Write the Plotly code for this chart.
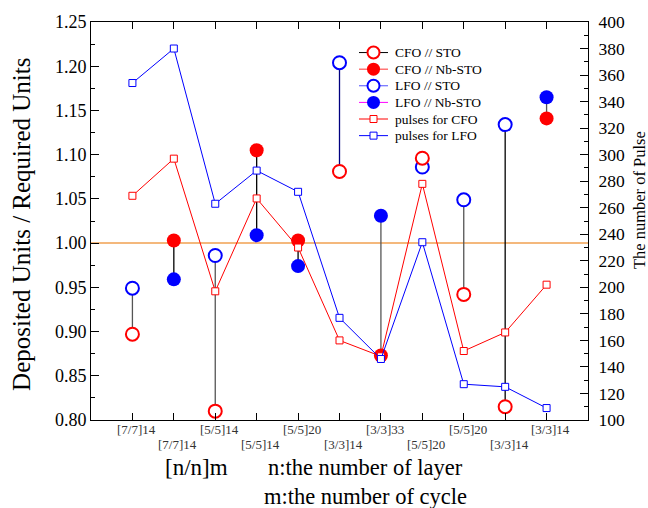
import plotly.graph_objects as go

# ---------------- data ----------------
categories = ["[7/7]14", "[7/7]14", "[5/5]14", "[5/5]14", "[5/5]20", "[3/3]14",
              "[3/3]33", "[5/5]20", "[5/5]20", "[3/3]14", "[3/3]14"]
cfo_sto    = [0.897, None, 0.810, None, None, 1.081, None, 1.096, 0.942, 0.815, None]
cfo_nbsto  = [None, 1.003, None, 1.105, 1.003, None, 0.873, None, None, None, 1.141]
lfo_sto    = [0.949, None, 0.986, None, None, 1.204, None, 1.086, 1.049, 1.134, None]
lfo_nbsto  = [None, 0.959, None, 1.009, 0.974, None, 1.031, None, None, None, 1.165]
pulses_cfo = [269, 297, 197, 267, 230, 160, 148, 278, 152, 166, 202]
pulses_lfo = [354, 380, 263, 288, 272, 177, 146, 234, 127, 125, 109]
reference_level = 1.00

legend_names = ["CFO // STO", "CFO // Nb-STO", "LFO // STO", "LFO // Nb-STO",
                "pulses for CFO", "pulses for LFO"]

x = list(range(1, len(categories) + 1))

# ---------------- styles ----------------
connector_colors = ["#555555", "#000000", "#555555", "#000000", "#000000", "#000080",
                    "#555555", "#555555", "#555555", "#000000", "#555555"]
FONT = "Liberation Serif, Times New Roman, serif"
RED = "#ff0000"
BLUE = "#0000ff"
# legend styles: line colour, symbol, fill, marker line colour, marker line width, size
legend_styles = [
    ("#000000", "circle", "white", RED, 2, 12),
    ("#ff3030", "circle", RED, RED, 0, 13),
    ("#5050ff", "circle", "white", BLUE, 2, 12),
    ("#ff00ff", "circle", BLUE, BLUE, 0, 13),
    (RED, "square", "white", RED, 1, 7),
    (BLUE, "square", "white", BLUE, 1, 7),
]
# legend layout in plot-area pixel units (overlay axis x3/y3)
LEG_X0, LEG_X1, LEG_XM, LEG_TX = 359, 388, 373.5, 393
LEG_Y0, LEG_DY = 50.7, 16.7

fig = go.Figure()

# vertical connectors between the paired values of each sample
for i, xi in enumerate(x):
    vals = [v for v in (cfo_sto[i], cfo_nbsto[i], lfo_sto[i], lfo_nbsto[i]) if v is not None]
    if len(vals) >= 2:
        fig.add_trace(go.Scatter(x=[xi, xi], y=[min(vals), max(vals)], mode="lines",
                                 line=dict(color=connector_colors[i], width=1.3),
                                 showlegend=False, hoverinfo="skip"))

# data markers (LFO below CFO)
fig.add_trace(go.Scatter(x=x, y=lfo_sto, mode="markers", showlegend=False,
                         marker=dict(symbol="circle", size=13, color="white",
                                     line=dict(color=BLUE, width=2))))
fig.add_trace(go.Scatter(x=x, y=lfo_nbsto, mode="markers", showlegend=False,
                         marker=dict(symbol="circle", size=14, color=BLUE,
                                     line=dict(color=BLUE, width=0))))
fig.add_trace(go.Scatter(x=x, y=cfo_sto, mode="markers", showlegend=False,
                         marker=dict(symbol="circle", size=13, color="white",
                                     line=dict(color=RED, width=2))))
fig.add_trace(go.Scatter(x=x, y=cfo_nbsto, mode="markers", showlegend=False,
                         marker=dict(symbol="circle", size=14, color=RED,
                                     line=dict(color=RED, width=0))))

# pulses on right axis
fig.add_trace(go.Scatter(x=x, y=pulses_cfo, mode="lines+markers", yaxis="y2", showlegend=False,
                         line=dict(color=RED, width=1),
                         marker=dict(symbol="square", size=7, color="white",
                                     line=dict(color=RED, width=1))))
fig.add_trace(go.Scatter(x=x, y=pulses_lfo, mode="lines+markers", yaxis="y2", showlegend=False,
                         line=dict(color=BLUE, width=1),
                         marker=dict(symbol="square", size=7, color="white",
                                     line=dict(color=BLUE, width=1))))

# custom legend drawn on an overlay axis in pixel units
for k, (name, (lc, sym, fc, mlc, mlw, ms)) in enumerate(zip(legend_names, legend_styles)):
    yk = LEG_Y0 + k * LEG_DY
    fig.add_trace(go.Scatter(x=[LEG_X0, LEG_X1], y=[yk, yk], mode="lines",
                             xaxis="x3", yaxis="y3", showlegend=False, hoverinfo="skip",
                             line=dict(color=lc, width=1)))
    fig.add_trace(go.Scatter(x=[LEG_XM], y=[yk], mode="markers",
                             xaxis="x3", yaxis="y3", showlegend=False, hoverinfo="skip",
                             marker=dict(symbol=sym, size=ms, color=fc,
                                         line=dict(color=mlc, width=mlw))))
    fig.add_annotation(x=LEG_TX, y=yk, xref="x3", yref="y3", text=name, showarrow=False,
                       xanchor="left", yanchor="middle",
                       font=dict(size=13.5, family=FONT, color="black"))

fig.add_shape(type="line", xref="paper", x0=0, x1=1, yref="y", y0=reference_level,
              y1=reference_level, line=dict(color="#f0a050", width=1.5), layer="below")

# staggered category labels
for i, (xi, c) in enumerate(zip(x, categories)):
    fig.add_annotation(x=xi, y=-0.025 if i % 2 == 0 else -0.061, xref="x", yref="paper",
                       text=c, showarrow=False, xanchor="center", yanchor="middle",
                       xshift=4, font=dict(size=13, family=FONT, color="#333333"))

fig.update_layout(
    width=648, height=508,
    margin=dict(l=91, r=60, t=20, b=88),
    paper_bgcolor="white", plot_bgcolor="white",
    font=dict(family=FONT, size=18, color="black"),
    showlegend=False,
    xaxis=dict(range=[0, 12], tickvals=x, showticklabels=False, ticks="inside",
               ticklen=7, tickcolor="black", showline=True, linecolor="black",
               linewidth=1, mirror="ticks", showgrid=False, zeroline=False),
    yaxis=dict(range=[0.8, 1.25], dtick=0.05, tickformat=".2f", ticks="inside",
               ticklen=8, tickcolor="black", showline=True, linecolor="black",
               linewidth=1, showgrid=False, zeroline=False,
               minor=dict(dtick=0.025, ticks="inside", ticklen=4, tickcolor="black"),
               tickfont=dict(size=18, family=FONT)),
    yaxis2=dict(range=[100, 400], dtick=20, overlaying="y", side="right",
                ticks="inside", ticklen=8, tickcolor="black", showline=True,
                linecolor="black", linewidth=1, showgrid=False, zeroline=False,
                ticklabelstandoff=6,
                minor=dict(dtick=10, ticks="inside", ticklen=4, tickcolor="black"),
                tickfont=dict(size=17.5, family=FONT)),
    xaxis3=dict(range=[91, 588], overlaying="x", visible=False, fixedrange=True),
    yaxis3=dict(range=[420, 20], overlaying="y", visible=False, fixedrange=True),
)

annotations = [
    dict(text="Deposited Units / Required Units", x=-0.139, y=0.4925, textangle=-90,
         font=dict(size=25)),
    dict(text="The number of Pulse", x=(639 - 91) / 497, y=0.5525, textangle=-90,
         font=dict(size=16.5)),
    dict(text="[n/n]m", x=(196 - 91) / 497, y=(420 - 468) / 400, font=dict(size=23)),
    dict(text="n:the number of layer", x=(266 - 91) / 497, y=(420 - 468) / 400,
         xanchor="left", font=dict(size=22.5)),
    dict(text="m:the number of cycle", x=(262 - 91) / 497, y=(420 - 497) / 400,
         xanchor="left", font=dict(size=22.5)),
]
for a in annotations:
    a.setdefault("xanchor", "center")
    a["font"]["family"] = FONT
    fig.add_annotation(xref="paper", yref="paper", showarrow=False, yanchor="middle", **a)

fig.write_html("out.html", config={"displayModeBar": False},
               post_script="document.body.style.margin='0';")
